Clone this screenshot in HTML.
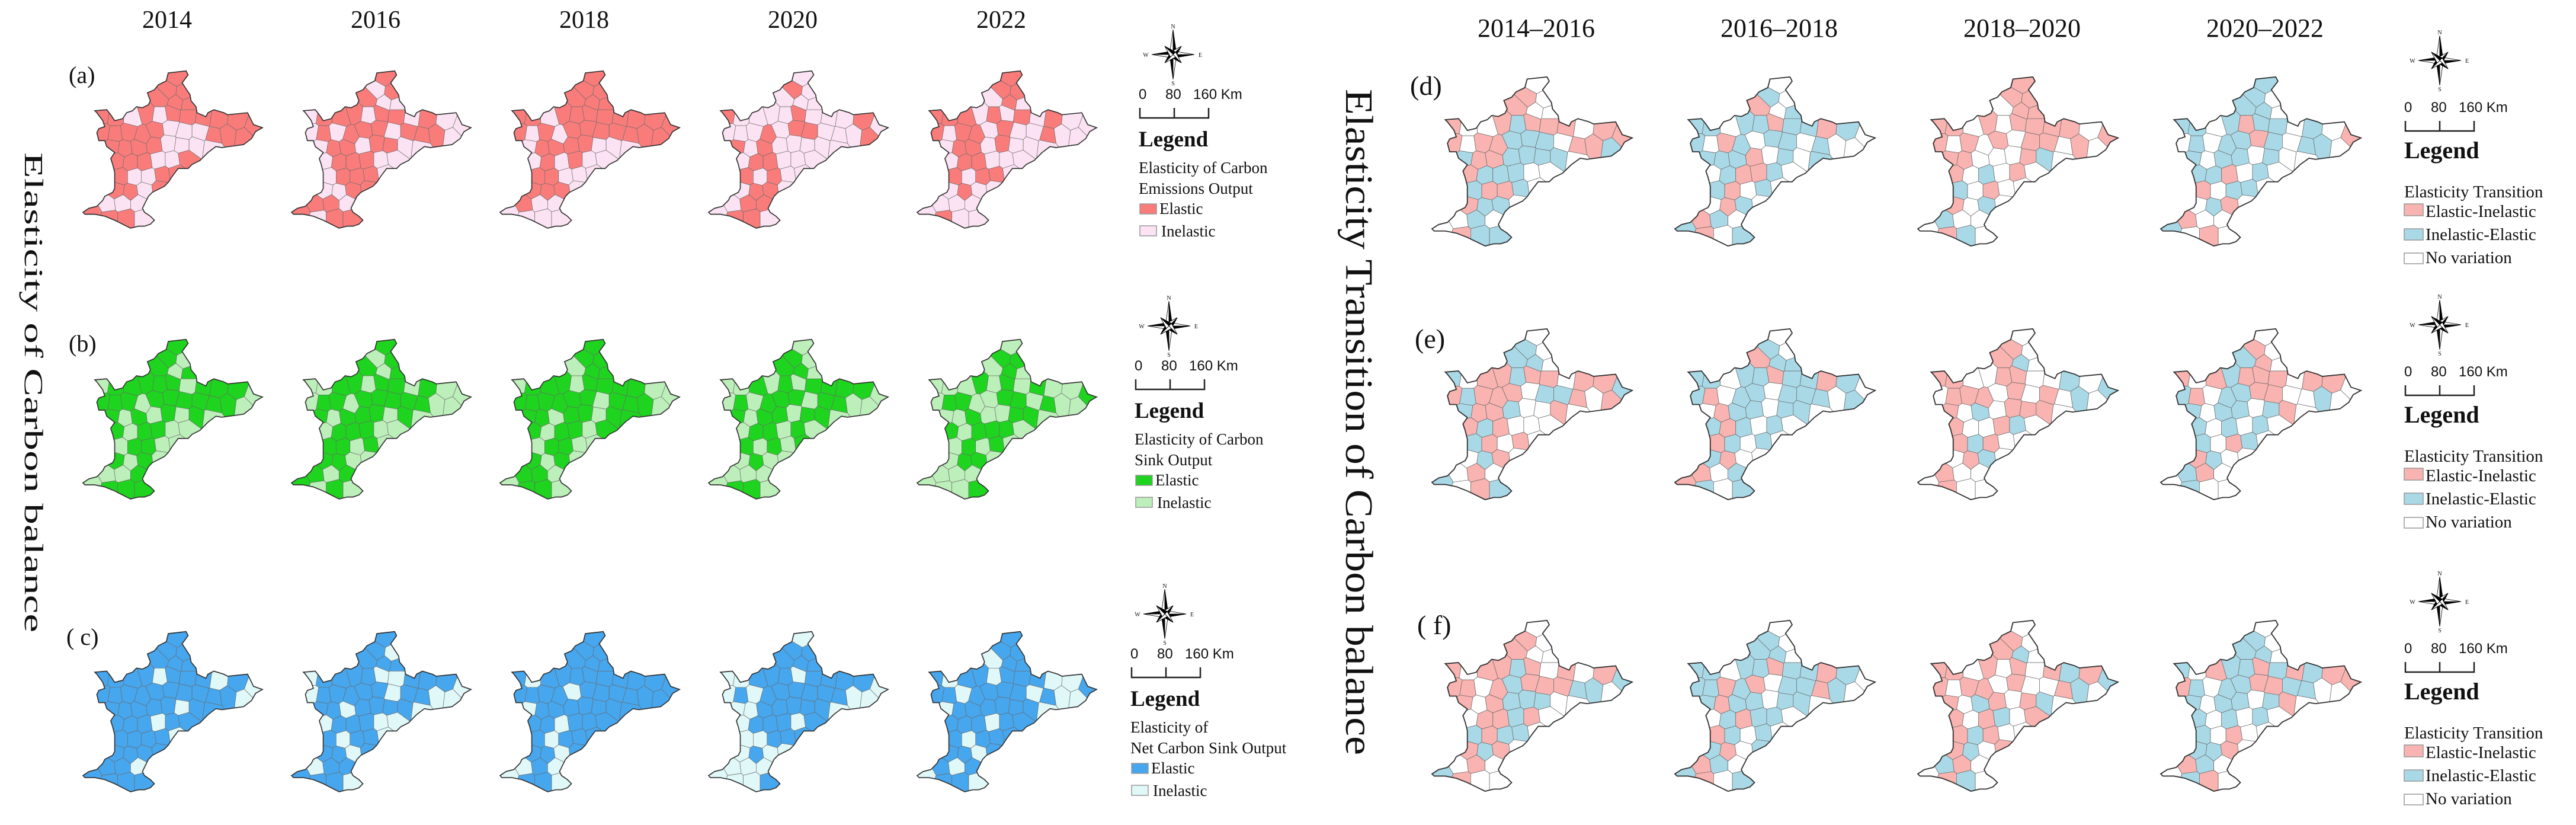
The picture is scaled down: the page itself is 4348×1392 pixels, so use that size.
<!DOCTYPE html>
<html><head><meta charset="utf-8"><style>
html,body{margin:0;padding:0;background:#fff;}
svg text{font-family:"Liberation Serif",serif;fill:#111;}
</style></head><body>
<svg id="fig" xmlns="http://www.w3.org/2000/svg" width="4348" height="1387" viewBox="0 0 4348 1387">
<rect width="4348" height="1387" fill="#fff"/>
</svg>
<script>
// ---- data ----
const yearsLeft = ["2014","2016","2018","2020","2022"];
const periodsRight = ["2014–2016","2016–2018","2018–2020","2020–2022"];
const emissions = [
 ["111111","11010111111","11111000111","11110000","111001","10011","1101","000","1110"],
 ["101100","01110110100","01011101110","01101100","011100","01110","0011","110","1011"],
 ["111111","11011111111","10101111111","01111000","010100","11000","1110","100","0000"],
 ["010000","10000100010","00010110001","10100000","011000","10100","0110","011","0110"],
 ["111010","11101010100","10110100100","01101000","011000","10110","0100","000","0100"]];
const sink = [
 ["110101","01111101110","11101111110","10101010","101100","01100","1010","001","0111"],
 ["101101","00110110100","01101111100","10111010","011100","11010","1100","101","1010"],
 ["111011","01110111100","11111101110","11011011","101101","01100","1010","110","0110"],
 ["010110","00101011110","01011101100","10110110","011010","10101","0100","000","0110"],
 ["011010","00010101001","01100110100","00100110","101110","01010","0110","000","0001"]];
const netSink = [
 ["111111","11110111010","11111111110","11111011","111011","11110","1111","110","1111"],
 ["110111","01111001110","01111101100","11011110","011100","10110","1101","011","1110"],
 ["111111","10111111111","11110111111","01111111","110111","10111","1101","010","0110"],
 ["011111","00111011110","01011111100","00111110","011101","00111","0100","000","0001"],
 ["111011","10110111001","11011110100","01111110","111011","10111","1101","101","0110"]];
const transEmis = [
 ["wpwpww","pwwpbpppwpp","pwppbbbwppb","bppbbbbw","pbbbww","bppbw","pbbw","wbw","wpbb"],
 ["wbwpwb","bbwbbpbbpbw","bwpbwbbwbww","bbbpwbwb","wbppbw","bpwbw","wpbw","pbw","bpwb"],
 ["pppwpp","ppwpwppppwp","pwpwpwppwpw","ppwwwpbw","pwbwpw","bwpww","pwbw","bww","wpbw"],
 ["bbwbbw","bbwbpbbwbwp","wbwbbpbwbbw","bwbbwbww","bbpwbw","pwbbw","wbpw","pww","bwpw"]];
const transSink = [
 ["wbwbbw","bwppbppwppb","pbpppwbbpwp","bppbwwpw","pbpwww","bpwpw","wbpw","wpw","bwpb"],
 ["wbwpbb","bbwbbpbbpbw","bpwbbwbbbwb","wpbbwbbw","bpbwbw","pbwbw","bpww","pwb","pbwb"],
 ["wpwpbw","ppwwppwwbwb","wpppwpwpwbw","pwbwpppw","pwwpbw","pbpww","wpbw","pww","wpww"],
 ["wpwbpw","pwpbpppwppw","bpwbbppwwbw","bwbbwbpw","bwbwbw","bwpbw","pbww","bpw","wbww"]];
const transNet = [
 ["wpwpww","pwppbpwpwpb","ppwpbpppbbw","pwpbbbww","wppbpw","bpbbw","pbpw","wpw","bpww"],
 ["wbwbbw","bbwbbpbbpbw","bbpbpwbbpbw","bpbbwbbw","wbpbbw","pbwbw","bpwb","pbw","bpwb"],
 ["wpwpbw","ppwpwpwpbpb","pwppwpwwpbw","pwbpwpbw","pwpbwp","pbpww","pbwp","bpw","wpbw"],
 ["wbwbbw","bwpbbpbpbpp","pbwbbppbbww","bwbbwbpw","bwbwbw","bwpww","bbpw","pbw","wbpw"]];

// ---- geometry (layout) ----
const NS="http://www.w3.org/2000/svg";
const fig=document.getElementById('fig');
function el(tag,attrs,parent){const e=document.createElementNS(NS,tag);for(const k in attrs)e.setAttribute(k,attrs[k]);(parent||fig).appendChild(e);return e;}
const outline=[[600,100],[690,90],[700,110],[670,150],[690,180],[710,210],[715,240],[740,270],[745,300],[790,320],[800,300],[830,285],[880,300],[900,310],[1000,300],[1030,360],[1060,370],[1075,375],[1040,395],[1020,430],[980,460],[870,475],[840,470],[800,500],[760,540],[720,560],[700,580],[650,580],[620,620],[600,650],[580,670],[520,700],[500,720],[470,780],[480,800],[510,820],[530,840],[510,860],[480,870],[450,870],[410,880],[370,860],[330,840],[280,820],[230,810],[180,810],[170,800],[200,780],[240,770],[270,740],[280,720],[320,700],[330,680],[330,640],[330,600],[320,560],[310,530],[330,500],[290,470],[280,440],[250,440],[240,400],[250,380],[280,370],[270,340],[240,300],[230,290],[290,285],[310,310],[330,340],[370,330],[390,300],[420,290],[440,270],[470,275],[500,260],[510,240],[495,200],[530,185],[550,160],[590,140]];
const seeds=[[640,120],[600,190],[680,200],[560,230],[640,250],[700,260],
[270,310],[330,320],[420,320],[490,300],[560,310],[620,300],[700,310],[780,320],[850,330],[950,340],[1030,370],
[270,400],[330,410],[400,400],[470,420],[540,390],[610,380],[680,400],[760,400],[830,420],[900,410],[980,420],
[320,470],[380,480],[450,470],[530,460],[600,450],[670,460],[740,460],[820,470],
[340,540],[410,550],[480,550],[550,540],[620,540],[690,530],
[360,620],[430,620],[500,620],[570,610],[640,600],
[340,690],[410,700],[480,690],[560,680],
[290,760],[370,750],[450,750],
[220,800],[300,830],[390,830],[470,830]];
function clip(poly,a,b){const n=[b[0]-a[0],b[1]-a[1]];const m=[(a[0]+b[0])/2,(a[1]+b[1])/2];
 const f=p=>(p[0]-m[0])*n[0]+(p[1]-m[1])*n[1];const out=[];
 for(let i=0;i<poly.length;i++){const p=poly[i],q=poly[(i+1)%poly.length];const fp=f(p),fq=f(q);
  if(fp<=0)out.push(p);if((fp<0&&fq>0)||(fp>0&&fq<0)){const t=fp/(fp-fq);out.push([p[0]+t*(q[0]-p[0]),p[1]+t*(q[1]-p[1])]);}}
 return out;}
const cells=seeds.map((s,i)=>{let poly=[[150,70],[1100,70],[1100,900],[150,900]];
 seeds.forEach((t,j)=>{if(i!==j)poly=clip(poly,s,t);});return poly;});
const outlineStr=outline.map(p=>p.join(',')).join(' ');
let mapId=0;
function drawMap(x,y,w,h,cats,palette,name){
 const s=el('svg',{x:x,y:y,width:w,height:h,viewBox:"170 85 905 795",preserveAspectRatio:"none",overflow:"visible"});
 
 
 const id='clip'+(mapId++);
 const cp=el('clipPath',{id:id},el('defs',{},s));el('polygon',{points:outlineStr},cp);
 const g=el('g',{'clip-path':'url(#'+id+')'},s);
 const str=cats.join('');
 cells.forEach((c,i)=>{const k=str[i]||'w';
  const p=el('polygon',{points:c.map(q=>q[0].toFixed(1)+','+q[1].toFixed(1)).join(' '),fill:palette[k],stroke:'#6a6a6a','stroke-width':2},g);
  
  });
 const o=el('polygon',{points:outlineStr,fill:'none',stroke:'#333','stroke-width':5},s);
 
 
}
function text(x,y,str,size,attrs,name){const t=el('text',Object.assign({x:x,y:y,'font-size':size},attrs||{}));t.textContent=str;
 
 return t;}
function compass(cx,cy){const g=el('g',{transform:`translate(${cx},${cy})`});
 
 
 const pts=[[0,-40,0],[38,0,90],[0,40,180],[-38,0,270]];
 [[0,42],[90,36],[180,42],[270,36],[45,20],[135,20],[225,20],[315,20]].forEach(([a,L])=>{
  const r=a*Math.PI/180,w=L>30?6:6;const tip=[Math.sin(r)*L,-Math.cos(r)*L];const l=[Math.cos(r)*w,Math.sin(r)*w];
  el('polygon',{points:`0,0 ${tip[0]},${tip[1]} ${l[0]},${l[1]}`,fill:'#000',stroke:'#000','stroke-width':0.8},g);
  el('polygon',{points:`0,0 ${tip[0]},${tip[1]} ${-l[0]},${-l[1]}`,fill:'#fff',stroke:'#000','stroke-width':0.8},g);});
 [['N',0,-44],['S',0,52],['W',-46,4],['E',46,4]].forEach(([c,x,y])=>{const t=el('text',{x:x,y:y,'font-size':10,'text-anchor':'middle'},g);t.textContent=c;});
}
function scalebar(x,y){ // y = baseline of numbers
 const g=el('g',{});
 const f={'font-size':24,'font-family':'Liberation Sans, sans-serif'};
 [['0',x],['80',x+45],['160 Km',x+92]].forEach(([s,xx])=>{const t=el('text',Object.assign({x:xx,y:y},f),g);t.setAttribute('style','font-family:"Liberation Sans",sans-serif');t.textContent=s;});
 el('path',{d:`M${x+2},${y+15} V${y+32} H${x+118} V${y+15} M${x+60},${y+15} V${y+32}`,fill:'none',stroke:'#222','stroke-width':2.5},g);
}
function swatch(x,y,w,h,fill,name){const r=el('rect',{x:x,y:y,width:w,height:h,fill:fill,stroke:'#999','stroke-width':1.5});
 }

// ---- titles ----
const lt=text(0,0,"Elasticity of Carbon balance",44,{transform:"translate(42,257) rotate(90)",textLength:810,lengthAdjust:"spacingAndGlyphs"},'left-panel-title');
const rt=text(0,0,"Elasticity Transition of Carbon balance",66,{transform:"translate(2272,150) rotate(90)",textLength:1124,lengthAdjust:"spacingAndGlyphs"},'right-panel-title');
yearsLeft.forEach((yv,i)=>text(282+352*i,47,yv,42,{'text-anchor':'middle'},'year-header-'+yv));
periodsRight.forEach((p,i)=>text(2593+410*i,62,p,44,{'text-anchor':'middle'},'period-header-'+i));

// ---- left maps ----
const palE={'1':'#F97C7B','0':'#FCE3F3'},palS={'1':'#1ED41E','0':'#BDEFBA'},palN={'1':'#46A6EE','0':'#E0F8F8'};
const rowY=[118,571,1064],rowH=[267,271,272];
[[emissions,palE,'a'],[sink,palS,'b'],[netSink,palN,'c']].forEach(([data,pal,lab],r)=>{
 data.forEach((cats,i)=>drawMap(140+352*i,rowY[r],303,rowH[r],cats,pal,'map-'+lab+'-'+yearsLeft[i]));
 text(lab==='c'?112:116,[140,593,1088][r],lab==='c'?'( c)':'('+lab+')',40,{},'panel-label-'+lab);
});
// left legends
const leftLeg=[{x:1922,b:247,l1:"Elasticity of Carbon",l2:"Emissions Output",pal:palE},
 {x:1915,b:705,l1:"Elasticity of Carbon",l2:"Sink Output",pal:palS},
 {x:1908,b:1191,l1:"Elasticity of",l2:"Net Carbon Sink Output",pal:palN}];
leftLeg.forEach((L,r)=>{
 compass(L.x+58,L.b-155);
 scalebar(L.x,L.b-80);
 text(L.x,L.b,"Legend",37,{'font-weight':'bold'},'legend-title');
 text(L.x,L.b+45,L.l1,27,{},'legend-heading-1');
 text(L.x,L.b+80,L.l2,27,{},'legend-heading-2');
 swatch(L.x+2,L.b+97,28,17,L.pal['1'],'legend-swatch-elastic');
 text(L.x+35,L.b+114,"Elastic",27,{},'legend-entry-elastic');
 swatch(L.x+2,L.b+134,28,17,L.pal['0'],'legend-swatch-inelastic');
 text(L.x+38,L.b+152,"Inelastic",27,{},'legend-entry-inelastic');
});

// ---- right maps ----
const palT={'p':'#F9B3B0','b':'#A9D9E7','w':'#FFFFFF'};
const rY=[128,553,1045],rH=[287,290,290];
[[transEmis,'d'],[transSink,'e'],[transNet,'f']].forEach(([data,lab],r)=>{
 data.forEach((cats,i)=>drawMap(2417+410*i,rY[r],338,rH[r],cats,palT,'map-'+lab+'-'+i));
 text(lab==='f'?2392:(lab==='e'?2388:2380),[160,587,1070][r],lab==='f'?'( f)':'('+lab+')',46,{},'panel-label-'+lab);
});
[267,713,1180].forEach((b,r)=>{
 const x=4058;
 compass(x+60,b-165);
 scalebar(x,b-78);
 text(x,b,"Legend",40,{'font-weight':'bold'},'legend-title');
 text(x,b+66,"Elasticity Transition",29,{},'legend-heading');
 swatch(x,b+77,32,20,palT.p,'legend-swatch-elastic-inelastic');
 text(x+36,b+99,"Elastic-Inelastic",29,{},'legend-entry-elastic-inelastic');
 swatch(x,b+119,32,19,palT.b,'legend-swatch-inelastic-elastic');
 text(x+36,b+138,"Inelastic-Elastic",29,{},'legend-entry-inelastic-elastic');
 swatch(x,b+160,32,18,palT.w,'legend-swatch-no-variation');
 text(x+36,b+177,"No variation",29,{},'legend-entry-no-variation');
});
</script>
</body></html>
